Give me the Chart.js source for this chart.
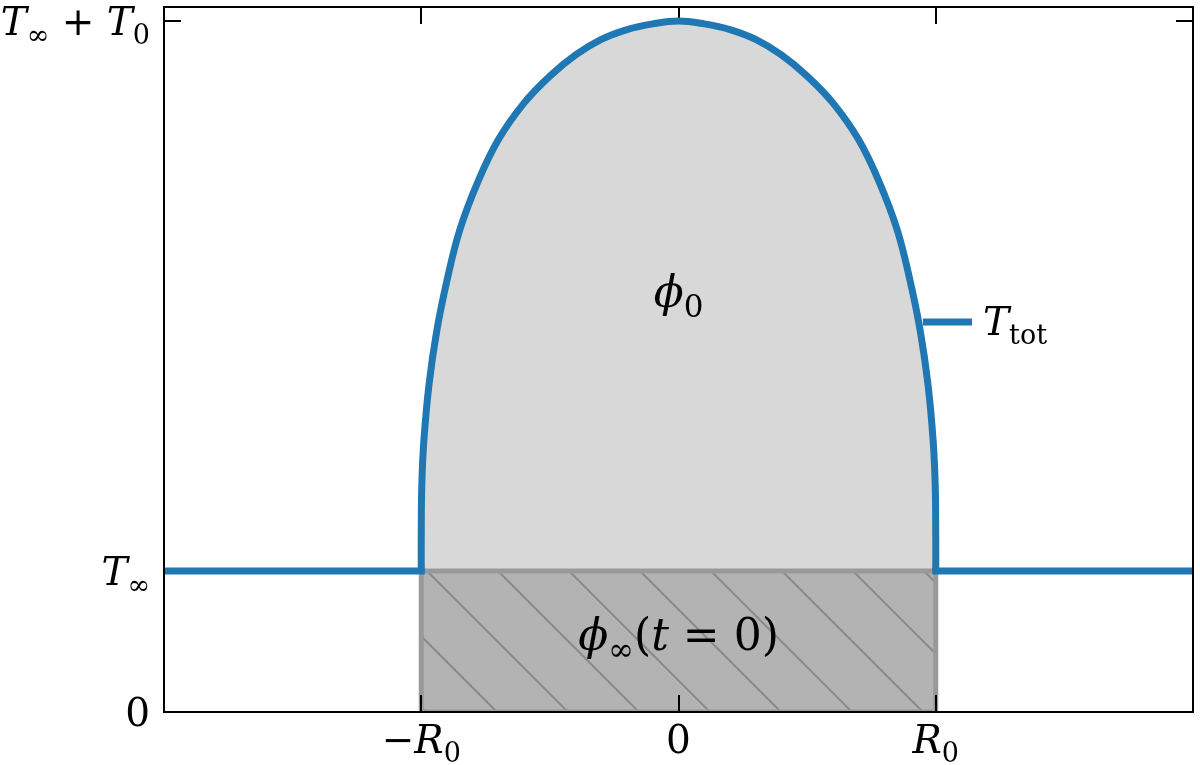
<!DOCTYPE html>
<html lang="fi">
<head>
<meta charset="utf-8">
<title>Lämpöprofiili</title>
<script src="https://cdn.jsdelivr.net/npm/chart.js@4"></script>
<style>
  html, body { margin: 0; padding: 0; background: #fff; }
  #kaavio { width: 1200px; height: 765px; }
</style>
</head>
<body>
<div id="kaavio"><canvas id="profiiliKaavio"></canvas></div>
<script>
// tasainen taso T∞ kuplan ulkopuolella
const vasenTasoX = [-2, -1];
const oikeaTasoX = [1, 2];
const tasoY = [1, 1];

// kupu T_tot, luettu kuvasta (x yksikössä R0, y yksikössä T∞)
const kupuX = [-1.0, -1.0, -0.998, -0.99, -0.97, -0.94, -0.9, -0.85, -0.78, -0.7, -0.6, -0.5, -0.4, -0.3, -0.2, -0.1, 0,
               0.1, 0.2, 0.3, 0.4, 0.5, 0.6, 0.7, 0.78, 0.85, 0.9, 0.94, 0.97, 0.99, 0.998, 1.0, 1.0];
const kupuY = [1.0, 1.25, 1.6, 1.92, 2.32, 2.70, 3.06, 3.42, 3.76, 4.06, 4.32, 4.51, 4.66, 4.77, 4.84, 4.88, 4.9,
               4.88, 4.84, 4.77, 4.66, 4.51, 4.32, 4.06, 3.76, 3.42, 3.06, 2.70, 2.32, 1.92, 1.6, 1.25, 1.0];

// φ∞(t = 0): laatikko -R0..R0, 0..T∞
const laatikkoX = [-1, 1];
const laatikkoY = [1, 1];
const reunaX = [-1, -1, 1, 1, -1];
const reunaY = [0, 1, 1, 0, 0];

// akselien tikit ja nimet
const xTikit = [-1, 0, 1];
const xNimet = ['−R_0', '0', 'R_0'];
const yTikit = [0, 1, 4.9];
const yNimet = ['0', 'T_∞', 'T_∞ + T_0'];

const SININEN = '#1f77b4';
const FONTTI = '"DejaVu Serif"';
const TIKKI = 17;

const pisteet = (xs, ys) => xs.map((x, i) => ({ x, y: ys[i] }));

// vinoviivoitus laatikkoon
function viivoitus() {
  const koko = 71, vaihe = 69;
  const c = document.createElement('canvas');
  c.width = koko; c.height = koko;
  const g = c.getContext('2d');
  g.fillStyle = '#b3b3b3';
  g.fillRect(0, 0, koko, koko);
  g.strokeStyle = '#8a8a8a';
  g.lineWidth = 2;
  for (const s of [-koko, 0, koko]) {
    g.beginPath();
    g.moveTo(vaihe + s - 5, -5);
    g.lineTo(vaihe + s + koko + 5, koko + 5);
    g.stroke();
  }
  return g.createPattern(c, 'repeat');
}

// pieni "mathtext": _x tai _{xyz} alaindeksiksi
function osiin(s) {
  const osat = [];
  for (let i = 0; i < s.length; i++) {
    let t = s[i], sub = false;
    if (t === '_') {
      sub = true; i++;
      if (s[i] === '{') { const j = s.indexOf('}', i); t = s.slice(i + 1, j); i = j; }
      else t = s[i];
    }
    osat.push({ t, sub });
  }
  return osat;
}

function fontti(o, koko) {
  const k = o.sub ? Math.round(koko * 0.7) : koko;
  const kursiivi = /^[A-Za-zϕ]$/.test(o.t) ? 'italic ' : '';
  return kursiivi + k + 'px ' + FONTTI;
}

function kirjoita(ctx, s, x, y, koko, tasaus) {
  const osat = osiin(s);
  let leveys = 0;
  for (const o of osat) { ctx.font = fontti(o, koko); o.w = ctx.measureText(o.t).width; leveys += o.w; }
  let px = tasaus === 'right' ? x - leveys : tasaus === 'center' ? x - leveys / 2 : x;
  ctx.textAlign = 'left';
  ctx.textBaseline = 'alphabetic';
  ctx.fillStyle = '#000';
  for (const o of osat) {
    ctx.font = fontti(o, koko);
    ctx.fillText(o.t, px, y + (o.sub ? koko * 0.22 : 0));
    px += o.w;
  }
}

function piirräTikit(chart) {
  const { ctx, chartArea: a, scales: { x, y } } = chart;
  ctx.save();
  ctx.strokeStyle = '#000';
  ctx.lineWidth = 2;
  ctx.beginPath();
  for (const v of xTikit) {
    const px = Math.round(x.getPixelForValue(v));
    ctx.moveTo(px, a.bottom); ctx.lineTo(px, a.bottom - TIKKI);
    ctx.moveTo(px, a.top); ctx.lineTo(px, a.top + TIKKI);
  }
  for (const v of yTikit) {
    const py = Math.round(y.getPixelForValue(v));
    ctx.moveTo(a.left, py); ctx.lineTo(a.left + TIKKI, py);
    ctx.moveTo(a.right, py); ctx.lineTo(a.right - TIKKI, py);
  }
  ctx.stroke();
  ctx.restore();
}

const kehys = {
  id: 'kehys',
  afterDatasetDraw(chart, args) {
    if (chart.data.datasets[args.index].label === 'reuna') piirräTikit(chart);
  },
  afterDraw(chart) {
    const { ctx, chartArea: a, scales: { x, y } } = chart;
    ctx.save();
    // kehys
    ctx.strokeStyle = '#000';
    ctx.lineWidth = 2;
    ctx.strokeRect(a.left, a.top, a.right - a.left, a.bottom - a.top);

    // tikkien nimet
    xTikit.forEach((v, i) => kirjoita(ctx, xNimet[i], x.getPixelForValue(v), 753, 39, 'center'));
    yTikit.forEach((v, i) => kirjoita(ctx, yNimet[i], a.left - 14, y.getPixelForValue(v) + 14, 39, 'right'));

    // alueiden nimet
    kirjoita(ctx, 'ϕ_0', x.getPixelForValue(0), y.getPixelForValue(2.87), 44, 'center');
    kirjoita(ctx, 'ϕ_∞(t = 0)', x.getPixelForValue(0), y.getPixelForValue(0.44), 44, 'center');

    // käyrän nimi viivan vieressä
    const ly = y.getPixelForValue(2.766);
    ctx.strokeStyle = SININEN;
    ctx.lineWidth = 7;
    ctx.beginPath();
    ctx.moveTo(x.getPixelForValue(0.95), ly);
    ctx.lineTo(x.getPixelForValue(1.141), ly);
    ctx.stroke();
    kirjoita(ctx, 'T_{tot}', x.getPixelForValue(1.184), ly + 13, 39, 'left');
    ctx.restore();
  }
};

const ctx = document.getElementById('profiiliKaavio').getContext('2d');
const sininenViiva = { borderColor: SININEN, borderWidth: 7, pointRadius: 0, fill: false, order: 1 };

new Chart(ctx, {
  type: 'line',
  data: {
    datasets: [
      { label: 'kupuTäyttö', data: pisteet(kupuX, kupuY), tension: 0.4, pointRadius: 0,
        borderColor: 'rgba(0,0,0,0)', borderWidth: 0, backgroundColor: '#d8d8d8',
        fill: { value: 1 }, order: 5 },
      { label: 'laatikko', data: pisteet(laatikkoX, laatikkoY), pointRadius: 0,
        borderColor: 'rgba(0,0,0,0)', borderWidth: 0, backgroundColor: viivoitus(),
        fill: { value: 0 }, order: 4 },
      { label: 'reuna', data: pisteet(reunaX, reunaY), pointRadius: 0, tension: 0,
        borderColor: '#999999', borderWidth: 5, borderJoinStyle: 'miter', fill: false, order: 3 },
      { label: 'vasen', data: pisteet(vasenTasoX, tasoY), borderCapStyle: 'square', ...sininenViiva },
      { label: 'T_tot', data: pisteet(kupuX, kupuY), tension: 0.4, ...sininenViiva },
      { label: 'oikea', data: pisteet(oikeaTasoX, tasoY), borderCapStyle: 'square', ...sininenViiva }
    ]
  },
  options: {
    responsive: true,
    maintainAspectRatio: false,
    devicePixelRatio: 1,
    animation: false,
    events: [],
    layout: { padding: { left: 164, right: 7, top: 7, bottom: 53 } },
    plugins: { legend: { display: false }, tooltip: { enabled: false } },
    scales: {
      x: { type: 'linear', min: -2, max: 2, display: false },
      y: { type: 'linear', min: 0, max: 5, display: false }
    }
  },
  plugins: [kehys]
});
</script>
</body>
</html>
